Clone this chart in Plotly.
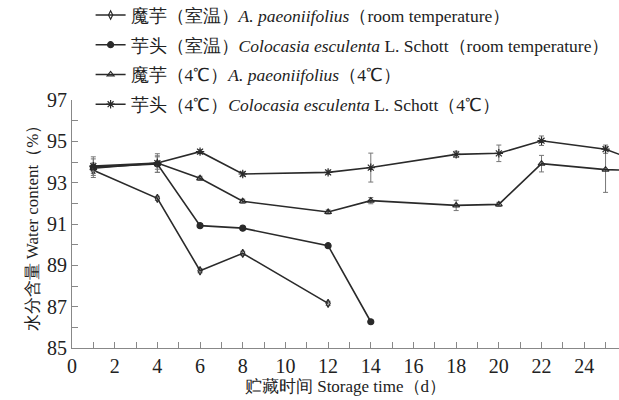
import plotly.graph_objects as go

# Data
x_rt_amor = [1, 4, 6, 8, 12]
y_rt_amor = [93.6, 92.24, 88.74, 89.58, 87.16]
e_rt_amor = [0.15, 0.1, 0.1, 0.1, 0.1]

x_rt_colo = [1, 4, 6, 8, 12, 14]
y_rt_colo = [93.75, 93.9, 90.92, 90.8, 89.95, 86.27]
e_rt_colo = [0.2, 0.4, 0.1, 0.1, 0.1, 0.1]

x_4_amor = [1, 4, 6, 8, 12, 14, 18, 20, 22, 25, 26]
y_4_amor = [93.7, 93.95, 93.21, 92.1, 91.58, 92.13, 91.9, 91.95, 93.92, 93.63, 93.6]
e_4_amor = [0.45, 0.45, 0.1, 0.1, 0.1, 0.15, 0.25, 0.1, 0.4, 1.1, 0]

x_4_colo = [1, 4, 6, 8, 12, 14, 18, 20, 22, 25, 26]
y_4_colo = [93.8, 93.95, 94.5, 93.42, 93.5, 93.73, 94.37, 94.42, 95.03, 94.62, 94.23]
e_4_colo = [0.45, 0.3, 0.1, 0.1, 0.1, 0.7, 0.15, 0.4, 0.23, 0.2, 0]

names = [
    "魔芋（室温）<i>A. paeoniifolius</i>（room temperature）",
    "芋头（室温）<i>Colocasia esculenta</i> L. Schott（room temperature）",
    "魔芋（4℃）<i>A. paeoniifolius</i>（4℃）",
    "芋头（4℃）<i>Colocasia esculenta</i> L. Schott（4℃）",
]

FONT = "Liberation Serif"
LC = "#2a2a2a"

series = [
    (x_rt_amor, y_rt_amor, e_rt_amor, "diamond-tall-open", 6),
    (x_rt_colo, y_rt_colo, e_rt_colo, "circle", 6),
    (x_4_amor, y_4_amor, e_4_amor, "triangle-up-open", 6),
    (x_4_colo, y_4_colo, e_4_colo, "asterisk-open", 7),
]

fig = go.Figure()
for i, (xs, ys, es, sym, sz) in enumerate(series):
    fig.add_trace(go.Scatter(
        x=xs, y=ys, name=names[i], mode="lines+markers",
        legendgroup=f"g{i}",
        line=dict(color=LC, width=1.6),
        marker=dict(symbol=sym, size=sz, color=LC, line=dict(color=LC, width=1.2)),
        error_y=dict(type="data", array=es, visible=True, color="#777", thickness=1, width=2.5),
        cliponaxis=True,
    ))

fig.update_layout(
    width=619, height=400,
    margin=dict(l=72, r=0, t=100, b=52, autoexpand=False),
    paper_bgcolor="white", plot_bgcolor="white",
    font=dict(family=FONT, color="#222", size=16),
    showlegend=True,
    legend=dict(x=0.034, y=1.415, xanchor="left", yanchor="top",
                bgcolor="rgba(0,0,0,0)", font=dict(size=17.5, family=FONT),
                tracegroupgap=4, itemwidth=30),
    xaxis=dict(range=[0, 25.63], tick0=0, dtick=2, ticks="inside", ticklen=6,
               tickcolor="#888", showline=True, linecolor="#888", linewidth=1,
               showgrid=False, zeroline=False,
               tickfont=dict(size=20, family=FONT),
               minor=dict(dtick=1, ticks="inside", ticklen=6, tickcolor="#888"),
               title=dict(text="贮藏时间 Storage time（d）", font=dict(size=17, family=FONT), standoff=2)),
    yaxis=dict(range=[85, 97], tick0=85, dtick=2, ticks="inside", ticklen=6,
               tickcolor="#888", showline=True, linecolor="#888", linewidth=1,
               showgrid=False, zeroline=False,
               tickfont=dict(size=20, family=FONT),
               minor=dict(dtick=1, ticks="inside", ticklen=6, tickcolor="#888"),
               title=dict(text="水分含量 Water content（%）", font=dict(size=17, family=FONT), standoff=4)),
)

fig.write_html("out.html", config={"displayModeBar": False},
               post_script="document.body.style.margin='0';")
